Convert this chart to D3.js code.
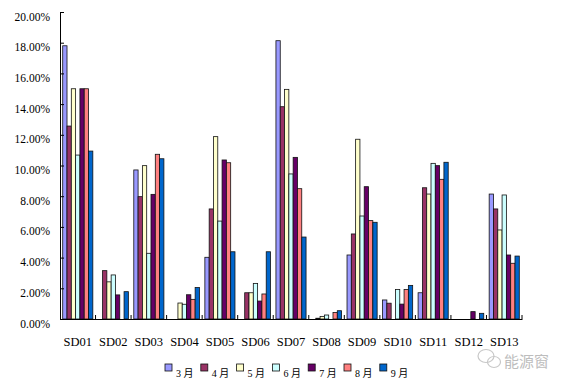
<!DOCTYPE html>
<html>
<head>
<meta charset="utf-8">
<script src="https://cdn.jsdelivr.net/npm/d3@7"></script>
<style>
  body { margin: 0; background: #fff; }
  .tick-label { font-family: "Liberation Serif", serif; font-size: 11.5px; fill: #000; }
  .cat-label { font-family: "Liberation Serif", serif; font-size: 12.5px; fill: #000; }
  .legend-label { font-family: "Liberation Serif", "Noto Sans CJK SC", serif; font-size: 10px; fill: #000; }
</style>
</head>
<body>
<svg width="570" height="388"></svg>
<script>
let categories = ['SD01', 'SD02', 'SD03', 'SD04', 'SD05', 'SD06', 'SD07', 'SD08', 'SD09', 'SD10', 'SD11', 'SD12', 'SD13']
let months = ['3 月', '4 月', '5 月', '6 月', '7 月', '8 月', '9 月']
let colors = ['#9999ff', '#993366', '#ffffcc', '#ccffff', '#660066', '#ff8080', '#0066cc']

// percent values, one array per month
let mar = [17.8, 0, 9.71, 0, 4.02, 0, 18.13, 0, 4.17, 1.24, 1.71, 0, 8.14]
let apr = [12.57, 3.15, 7.97, 0, 7.17, 1.71, 13.83, 0.05, 5.54, 1.03, 8.55, 0, 7.17]
let may = [15.0, 2.42, 9.99, 1.04, 11.88, 1.71, 14.96, 0.17, 11.71, 0, 8.14, 0, 5.8]
let jun = [10.68, 2.87, 4.28, 0.96, 6.38, 2.32, 9.45, 0.26, 6.71, 1.92, 10.14, 0, 8.08]
let jul = [15.0, 1.57, 8.12, 1.58, 10.36, 1.17, 10.53, 0, 8.62, 0.97, 9.99, 0.48, 4.17]
let aug = [15.0, 0, 10.73, 1.28, 10.18, 1.63, 8.49, 0.42, 6.41, 1.92, 9.1, 0, 3.63]
let sep = [10.94, 1.78, 10.44, 2.05, 4.38, 4.38, 5.34, 0.54, 6.3, 2.19, 10.21, 0.37, 4.1]

let yTicks = [0, 2, 4, 6, 8, 10, 12, 14, 16, 18, 20]

let series = [mar, apr, may, jun, jul, aug, sep]

let svg = d3.select('svg')

let plot = { left: 60, right: 522, top: 12, bottom: 319 }

let scale = {
    x0: d3.scaleBand().domain(categories).range([plot.left, plot.right]).padding(0),
    y: d3.scaleLinear().domain([0, 20]).range([plot.bottom, plot.top])
}
scale.x1 = d3.scaleBand().domain(months).range([0, scale.x0.bandwidth()])
            .paddingInner(0).paddingOuter(0.63)

// bars
let groups = svg.selectAll('.group')
    .data(categories)
    .enter()
    .append('g')
    .attr('class', 'group')
    .attr('transform', d => `translate(${scale.x0(d)},0)`)

groups.selectAll('rect')
    .data((c, i) => months.map((m, j) => ({ month: m, color: colors[j], value: series[j][i] })))
    .enter()
    .filter(d => d.value > 0)
    .append('rect')
    .attr('x', d => scale.x1(d.month))
    .attr('y', d => scale.y(d.value))
    .attr('width', scale.x1.bandwidth())
    .attr('height', d => scale.y(0) - scale.y(d.value))
    .attr('fill', d => d.color)
    .attr('stroke', '#111')
    .attr('stroke-width', 0.8)

// Y axis
let yAxis = svg.append('g')
    .attr('transform', `translate(${plot.left},0)`)
    .call(d3.axisLeft(scale.y)
        .tickValues(yTicks)
        .tickSizeInner(-4)
        .tickSizeOuter(0)
        .tickPadding(10)
        .tickFormat(d => d.toFixed(2) + '%'))
yAxis.select('.domain').attr('stroke', '#000')
yAxis.selectAll('.tick line').attr('stroke', '#000')
yAxis.selectAll('.tick text')
    .attr('class', 'tick-label')
    .attr('font-family', null)
    .attr('font-size', null)
    .attr('dy', '0.7em')

// X axis
let xAxis = svg.append('g')
    .attr('transform', `translate(0,${plot.bottom})`)
    .call(d3.axisBottom(scale.x0).tickSize(0).tickPadding(18))
xAxis.select('.domain').attr('stroke', '#000')
xAxis.selectAll('.tick text')
    .attr('class', 'cat-label')
    .attr('font-family', null)
    .attr('font-size', null)

// boundary ticks on x axis
svg.append('g')
    .selectAll('line')
    .data(categories)
    .enter()
    .append('line')
    .attr('x1', d => scale.x0(d) + scale.x0.step())
    .attr('x2', d => scale.x0(d) + scale.x0.step())
    .attr('y1', plot.bottom)
    .attr('y2', plot.bottom - 4)
    .attr('stroke', '#000')

// legend
let legend = svg.append('g')
    .selectAll('g')
    .data(months)
    .enter()
    .append('g')
    .attr('transform', (d, i) => `translate(${165 + i * 35.8},364)`)

legend.append('rect')
    .attr('width', 7)
    .attr('height', 7)
    .attr('fill', (d, i) => colors[i])
    .attr('stroke', '#111')
    .attr('stroke-width', 0.8)

legend.append('text')
    .attr('class', 'legend-label')
    .attr('x', 11)
    .attr('y', 13)
    .text(d => d)

// watermark
let mark = svg.append('g').attr('fill', 'none').attr('stroke', '#c8c8c8').attr('stroke-width', 1.2)
mark.append('ellipse').attr('cx', 486).attr('cy', 356).attr('rx', 8).attr('ry', 6.5)
mark.append('ellipse').attr('cx', 494).attr('cy', 362).attr('rx', 6.5).attr('ry', 5.5)

svg.append('text')
    .attr('x', 504)
    .attr('y', 367)
    .attr('font-family', '"Noto Sans CJK SC", sans-serif')
    .attr('font-size', 15)
    .attr('fill', '#bdbdbd')
    .text('能源窗')
</script>
</body>
</html>
